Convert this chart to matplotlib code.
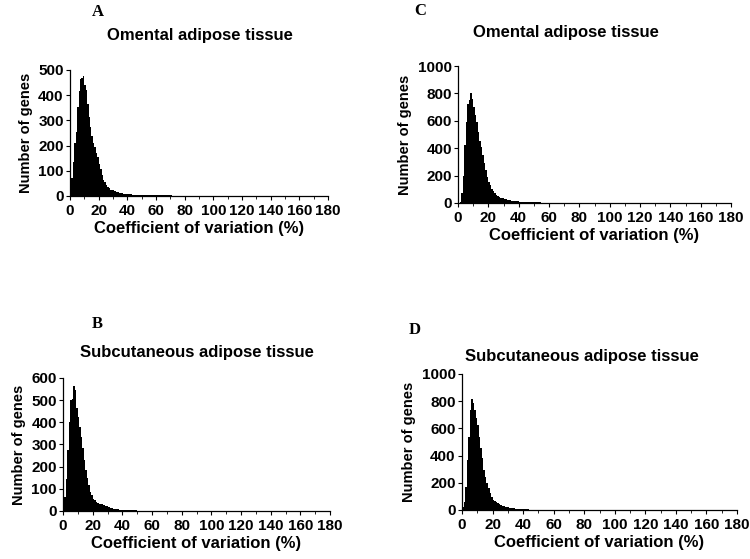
"""
Coefficient-of-variation histograms for omental and subcutaneous adipose tissue.
Four panels (A-D), one per tissue / dataset, counts per 1 % CV bin.
"""

import matplotlib
matplotlib.use("Agg")
import matplotlib.pyplot as plt
import numpy as np
from matplotlib.ticker import MultipleLocator

# ---------------------------------------------------------------------------
# Data: number of genes per 1 % CV bin, starting at 0 %
# ---------------------------------------------------------------------------

counts_a = [30, 70, 135, 210, 255, 355, 415, 465, 470, 478,
            440, 420, 367, 315, 275, 240, 210, 195, 170, 155,
            128, 108, 82, 65, 55, 42, 36, 30, 25, 22,
            25, 20, 17, 15, 13, 12, 10, 8, 8, 7,
            7, 6, 6, 5, 5, 5, 4, 4, 4, 3,
            3, 3, 3, 3, 2, 2, 2, 2, 2, 2,
            2, 2, 2, 2, 2, 2, 2, 3, 3, 2,
            2, 1, 1, 1, 1, 1, 1, 1, 1, 1,
            1, 1, 1, 1, 1, 1, 1, 1, 1, 1]

counts_b = [18, 63, 145, 275, 400, 500, 505, 565, 545, 465,
            425, 380, 335, 282, 230, 185, 147, 116, 86, 71,
            56, 48, 41, 36, 33, 33, 32, 29, 24, 21,
            18, 16, 14, 12, 11, 10, 8, 7, 6, 6,
            5, 5, 4, 4, 4, 3, 3, 3, 3, 3,
            2, 2, 2, 2, 2, 2, 2, 2, 2, 2,
            1, 1, 1, 1, 1, 1, 1, 1, 1, 1,
            1, 1, 1, 1, 1, 1, 1, 1, 1, 1]

counts_c = [0, 5, 70, 200, 420, 590, 725, 750, 805, 760,
            700, 640, 590, 520, 455, 410, 350, 290, 240, 190,
            155, 130, 105, 88, 73, 60, 53, 44, 39, 34,
            31, 28, 25, 22, 20, 18, 15, 13, 12, 11,
            10, 9, 8, 8, 7, 7, 6, 6, 5, 5,
            5, 4, 4, 4, 4, 3, 3, 3, 3, 3,
            3, 3, 3, 2, 2, 2, 2, 2, 2, 2,
            2, 1, 1, 1, 1, 1, 1, 1, 1, 1,
            1, 1, 1, 1, 1, 1, 1, 1, 1, 1]

counts_d = [25, 60, 170, 370, 540, 735, 815, 785, 735, 675,
            625, 540, 455, 380, 295, 245, 195, 160, 122, 98,
            74, 64, 56, 49, 42, 37, 32, 29, 25, 22,
            20, 18, 16, 14, 12, 10, 8, 7, 6, 5,
            5, 4, 4, 4, 3, 3, 3, 3, 2, 2,
            2, 2, 2, 2, 2, 1, 1, 1, 1, 1,
            1, 1, 1, 1, 1, 1, 1, 1, 1, 1,
            1, 1, 1, 1, 1, 1, 1, 1, 1, 1]

titles = ["Omental adipose tissue", "Subcutaneous adipose tissue",
          "Omental adipose tissue", "Subcutaneous adipose tissue"]
letters = ["A", "B", "C", "D"]
y_tops = [500, 600, 1000, 1000]
y_steps = [100, 100, 200, 200]

# ---------------------------------------------------------------------------
# Layout (figure fractions, measured off the reference)
# ---------------------------------------------------------------------------
AX_RECTS = [
    [0.0933, 0.6494, 0.3440, 0.2254],   # A
    [0.0840, 0.0859, 0.3560, 0.2379],   # B
    [0.6107, 0.6369, 0.3640, 0.2450],   # C
    [0.6160, 0.0877, 0.3667, 0.2433],   # D
]
TITLE_POS = [(0.266, 0.937), (0.262, 0.370), (0.754, 0.941), (0.776, 0.363)]
LETTER_POS = [(0.123, 0.978), (0.123, 0.420), (0.552, 0.981), (0.545, 0.410)]

SANS = "Liberation Sans"
SERIF = "Liberation Serif"

fig = plt.figure(figsize=(7.5, 5.59), dpi=100)

all_counts = [counts_a, counts_b, counts_c, counts_d]
for i, counts in enumerate(all_counts):
    ax = fig.add_axes(AX_RECTS[i])
    edges = np.arange(len(counts) + 1)
    ax.stairs(counts, edges, fill=True, color="black", linewidth=0)

    ax.set_xlim(0, 180)
    ax.set_ylim(0, y_tops[i])
    ax.xaxis.set_major_locator(MultipleLocator(20))
    ax.xaxis.set_minor_locator(MultipleLocator(10))
    ax.yaxis.set_major_locator(MultipleLocator(y_steps[i]))

    for side in ("top", "right"):
        ax.spines[side].set_visible(False)
    for side in ("left", "bottom"):
        ax.spines[side].set_linewidth(0.9)
    ax.tick_params(which="major", length=3, width=0.8)
    ax.tick_params(axis="x", which="major", pad=3)
    ax.tick_params(axis="y", which="major", pad=1.5)
    ax.tick_params(which="minor", length=2, width=0.6)
    for lab in ax.get_xticklabels() + ax.get_yticklabels():
        lab.set_fontfamily(SANS)
        lab.set_fontweight("bold")
        lab.set_fontsize(11)

    ax.set_xlabel("Coefficient of variation (%)", fontfamily=SANS,
                  fontweight="bold", fontsize=12, labelpad=2)
    ax.set_ylabel("Number of genes", fontfamily=SANS,
                  fontweight="bold", fontsize=10.5, labelpad=4)

    fig.text(*TITLE_POS[i], titles[i], ha="center", va="center",
             fontfamily=SANS, fontweight="bold", fontsize=12)
    fig.text(*LETTER_POS[i], letters[i], ha="left", va="center",
             fontfamily=SERIF, fontweight="bold", fontsize=12)

fig.savefig("out.png", dpi=100)
